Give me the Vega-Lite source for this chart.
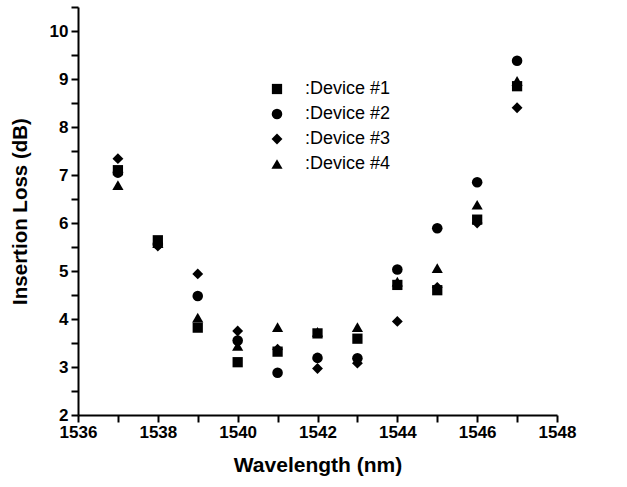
{
  "$schema": "https://vega.github.io/schema/vega-lite/v6.json",
  "autosize": "none",
  "width": 479,
  "height": 408,
  "padding": {"left": 78, "top": 7, "right": 70, "bottom": 72},
  "background": "white",
  "config": {
    "view": {"stroke": null},
    "font": "Liberation Sans"
  },
  "data": {
    "values": [
      {"wl": 1537, "device": "Device #1", "loss": 7.1},
      {"wl": 1537, "device": "Device #2", "loss": 7.05},
      {"wl": 1537, "device": "Device #3", "loss": 7.34},
      {"wl": 1537, "device": "Device #4", "loss": 6.79},
      {"wl": 1538, "device": "Device #1", "loss": 5.64},
      {"wl": 1538, "device": "Device #2", "loss": 5.56},
      {"wl": 1538, "device": "Device #3", "loss": 5.52},
      {"wl": 1538, "device": "Device #4", "loss": 5.58},
      {"wl": 1539, "device": "Device #1", "loss": 3.82},
      {"wl": 1539, "device": "Device #2", "loss": 4.48},
      {"wl": 1539, "device": "Device #3", "loss": 4.94},
      {"wl": 1539, "device": "Device #4", "loss": 4.03},
      {"wl": 1540, "device": "Device #1", "loss": 3.1},
      {"wl": 1540, "device": "Device #2", "loss": 3.55},
      {"wl": 1540, "device": "Device #3", "loss": 3.75},
      {"wl": 1540, "device": "Device #4", "loss": 3.44},
      {"wl": 1541, "device": "Device #1", "loss": 3.32},
      {"wl": 1541, "device": "Device #2", "loss": 2.88},
      {"wl": 1541, "device": "Device #3", "loss": 3.37},
      {"wl": 1541, "device": "Device #4", "loss": 3.83},
      {"wl": 1542, "device": "Device #1", "loss": 3.7},
      {"wl": 1542, "device": "Device #2", "loss": 3.19},
      {"wl": 1542, "device": "Device #3", "loss": 2.97},
      {"wl": 1542, "device": "Device #4", "loss": 3.73},
      {"wl": 1543, "device": "Device #1", "loss": 3.59},
      {"wl": 1543, "device": "Device #2", "loss": 3.18},
      {"wl": 1543, "device": "Device #3", "loss": 3.08},
      {"wl": 1543, "device": "Device #4", "loss": 3.83},
      {"wl": 1544, "device": "Device #1", "loss": 4.71},
      {"wl": 1544, "device": "Device #2", "loss": 5.03},
      {"wl": 1544, "device": "Device #3", "loss": 3.95},
      {"wl": 1544, "device": "Device #4", "loss": 4.78},
      {"wl": 1545, "device": "Device #1", "loss": 4.6},
      {"wl": 1545, "device": "Device #2", "loss": 5.89},
      {"wl": 1545, "device": "Device #3", "loss": 4.66},
      {"wl": 1545, "device": "Device #4", "loss": 5.06},
      {"wl": 1546, "device": "Device #1", "loss": 6.07},
      {"wl": 1546, "device": "Device #2", "loss": 6.85},
      {"wl": 1546, "device": "Device #3", "loss": 6.0},
      {"wl": 1546, "device": "Device #4", "loss": 6.38},
      {"wl": 1547, "device": "Device #1", "loss": 8.85},
      {"wl": 1547, "device": "Device #2", "loss": 9.38},
      {"wl": 1547, "device": "Device #3", "loss": 8.4},
      {"wl": 1547, "device": "Device #4", "loss": 8.96}
    ]
  },
  "mark": {"type": "point", "filled": true, "color": "black", "opacity": 1},
  "encoding": {
    "x": {
      "field": "wl", "type": "quantitative",
      "scale": {"domain": [1536, 1548], "nice": false, "zero": false},
      "axis": {
        "title": "Wavelength (nm)", "values": [1536, 1537, 1538, 1539, 1540, 1541, 1542, 1543, 1544, 1545, 1546, 1547, 1548],
        "labelExpr": "datum.value % 2 === 0 ? format(datum.value, 'd') : ''",
        "grid": false, "domainColor": "black", "domainWidth": 2,
        "tickColor": "black", "tickWidth": 2, "tickSize": 7,
        "labelFont": "Liberation Sans", "labelFontWeight": "bold", "labelFontSize": 17, "labelColor": "black",
        "labelPadding": 2, "labelFlush": false, "labelOverlap": false,
        "titleFont": "Liberation Sans", "titleFontWeight": "bold", "titleFontSize": 21, "titleColor": "black",
        "titlePadding": 14,
        "encode": {"ticks": {"update": {"y2": {"signal": "datum.value % 2 === 0 ? 7 : 4"}}}}
      }
    },
    "y": {
      "field": "loss", "type": "quantitative",
      "scale": {"domain": [2, 10.5], "nice": false, "zero": false},
      "axis": {
        "title": "Insertion Loss (dB)", "values": [2, 2.5, 3, 3.5, 4, 4.5, 5, 5.5, 6, 6.5, 7, 7.5, 8, 8.5, 9, 9.5, 10, 10.5],
        "labelExpr": "datum.value % 1 === 0 ? format(datum.value, 'd') : ''",
        "grid": false, "domainColor": "black", "domainWidth": 2,
        "tickColor": "black", "tickWidth": 2, "tickSize": 7,
        "labelFont": "Liberation Sans", "labelFontWeight": "bold", "labelFontSize": 17, "labelColor": "black",
        "labelPadding": 3, "labelOverlap": false, "labelFlush": false,
        "titleFont": "Liberation Sans", "titleFontWeight": "bold", "titleFontSize": 20.5, "titleColor": "black",
        "titlePadding": 19,
        "encode": {"ticks": {"update": {"x2": {"signal": "datum.value % 1 === 0 ? -7 : -4"}}}}
      }
    },
    "size": {
      "field": "device", "type": "nominal",
      "scale": {"domain": ["Device #1", "Device #2", "Device #3", "Device #4"], "range": [105, 125, 210, 165]}
    },
    "shape": {
      "field": "device", "type": "nominal",
      "scale": {"domain": ["Device #1", "Device #2", "Device #3", "Device #4"], "range": ["square", "circle", "diamond", "triangle-up"]},
      "legend": {
        "title": null, "orient": "none", "legendX": 190, "legendY": 73,
        "labelExpr": "':' + datum.label", "labelFont": "Liberation Sans", "labelFontSize": 18, "labelColor": "black",
        "labelOffset": 19, "rowPadding": 7, "symbolFillColor": "black", "symbolStrokeColor": "black", "padding": 0
      }
    }
  }
}
